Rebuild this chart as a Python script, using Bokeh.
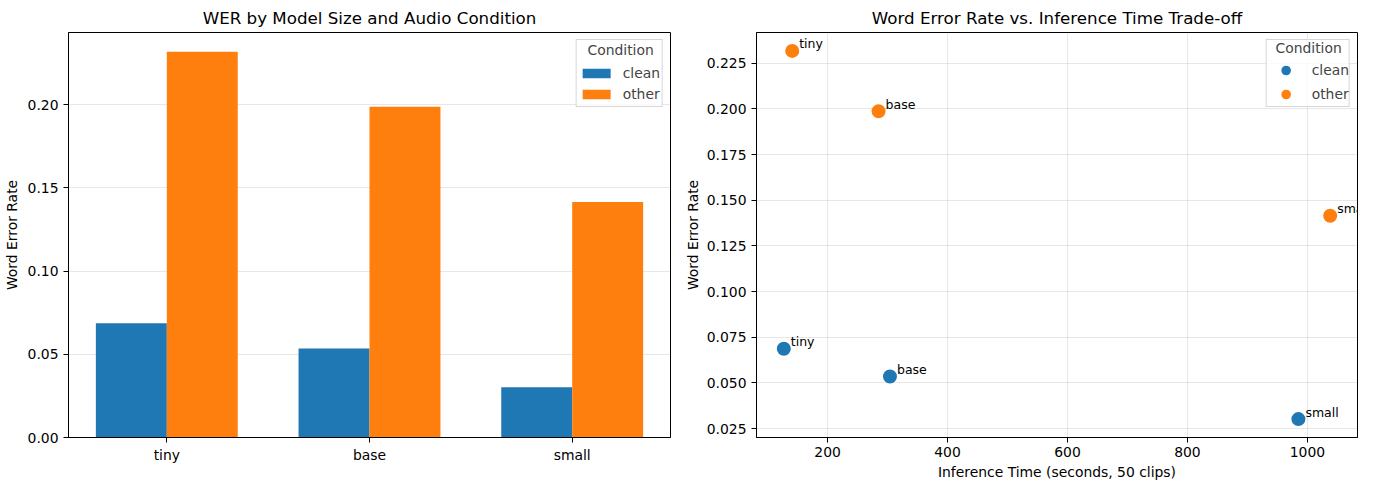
import numpy as np
from bokeh.plotting import figure
from bokeh.layouts import row
from bokeh.models import (ColumnDataSource, Range1d, FixedTicker, SingleIntervalTicker,
                          NumeralTickFormatter, Legend, LegendItem, Label)
from bokeh.embed import file_html
from bokeh.resources import INLINE

# data
models = ["tiny", "base", "small"]
wer_clean = [0.0687, 0.0535, 0.0302]
wer_other = [0.2318, 0.1988, 0.1415]
time_clean = [127, 304, 985]
time_other = [141, 285, 1038]
conditions = ["clean", "other"]

BLUE = "#1f77b4"
ORANGE = "#ff7f0e"
FONT = "DejaVu Sans"
bar_w = 0.35


def pad_range(lo, hi, frac=0.05):
    span = hi - lo
    return Range1d(lo - frac * span, hi + frac * span)


def style(p):
    p.title.text_font = FONT
    p.title.text_font_size = "16.7px"
    p.title.text_font_style = "normal"
    p.title.text_color = "black"
    p.title.align = "center"
    p.title.standoff = 10
    p.outline_line_color = "black"
    p.outline_line_width = 1
    for ax in p.axis:
        ax.axis_line_color = "black"
        ax.major_tick_line_color = "black"
        ax.major_tick_out = 5
        ax.major_tick_in = 0
        ax.minor_tick_line_color = None
        ax.major_label_text_font = FONT
        ax.major_label_text_font_size = "13.9px"
        ax.major_label_text_color = "black"
        ax.axis_label_text_font = FONT
        ax.axis_label_text_font_size = "13.9px"
        ax.axis_label_text_font_style = "normal"
        ax.axis_label_text_color = "black"
        ax.major_label_standoff = 5
    p.xaxis.major_label_standoff = 4
    p.grid.grid_line_color = "#b0b0b0"
    p.grid.grid_line_alpha = 0.3


def style_legend(leg):
    leg.location = "top_right"
    leg.margin = 7
    leg.title_text_font = FONT
    leg.title_text_font_size = "13.9px"
    leg.title_text_font_style = "normal"
    leg.label_text_font = FONT
    leg.label_text_font_size = "13.9px"
    leg.border_line_color = "#cccccc"
    leg.border_line_alpha = 0.8
    leg.background_fill_alpha = 0.8


# legend title is left-aligned in Bokeh, pad it to sit centred
leg_title = "\u00a0\u00a0Condition"

# ---- left: grouped bars ----
x = np.arange(len(models))
bar_src = ColumnDataSource(dict(x_clean=x - bar_w / 2, x_other=x + bar_w / 2,
                                clean=wer_clean, other=wer_other))

p1 = figure(frame_width=602, frame_height=405, title="WER by Model Size and Audio Condition",
            x_range=pad_range(-bar_w, len(models) - 1 + bar_w),
            y_range=Range1d(0, max(wer_other) * 1.05),
            output_backend="svg", toolbar_location=None,
            min_border_left=62, min_border_right=8, min_border_top=24, min_border_bottom=41)
r_clean = p1.vbar(x="x_clean", top="clean", width=bar_w, source=bar_src,
                  fill_color=BLUE, line_color=None)
r_other = p1.vbar(x="x_other", top="other", width=bar_w, source=bar_src,
                  fill_color=ORANGE, line_color=None)
p1.yaxis.axis_label = "Word Error Rate"
p1.xaxis.ticker = FixedTicker(ticks=list(range(len(models))))
p1.xaxis.major_label_overrides = {i: m for i, m in enumerate(models)}
p1.yaxis.ticker = SingleIntervalTicker(interval=0.05)
p1.yaxis.formatter = NumeralTickFormatter(format="0.00")
style(p1)
p1.xgrid.visible = False
p1.yaxis.axis_label_standoff = 5

leg1 = Legend(items=[LegendItem(label=conditions[0], renderers=[r_clean]),
                     LegendItem(label=conditions[1], renderers=[r_other])],
              title=leg_title)
style_legend(leg1)
leg1.padding = 2
leg1.glyph_width = 35
leg1.glyph_height = 12
leg1.label_height = 20
leg1.label_width = 30
leg1.label_standoff = 9
leg1.spacing = 1
leg1.title_standoff = 5
p1.add_layout(leg1)

# ---- right: scatter trade-off ----
all_t = time_clean + time_other
all_w = wer_clean + wer_other
p2 = figure(frame_width=601, frame_height=405,
            title="Word Error Rate vs. Inference Time Trade-off",
            x_range=pad_range(min(all_t), max(all_t)),
            y_range=pad_range(min(all_w), max(all_w)),
            output_backend="svg", toolbar_location=None,
            min_border_left=78, min_border_right=19, min_border_top=24, min_border_bottom=41)

src_c = ColumnDataSource(dict(t=time_clean, w=wer_clean))
src_o = ColumnDataSource(dict(t=time_other, w=wer_other))
s_clean = p2.scatter("t", "w", size=14, fill_color=BLUE, line_color=None, source=src_c)
s_other = p2.scatter("t", "w", size=14, fill_color=ORANGE, line_color=None, source=src_o)

# point annotations, offset 5pt right / 5pt up like the original
for ts, ws in ((time_clean, wer_clean), (time_other, wer_other)):
    for t, w, m in zip(ts, ws, models):
        p2.add_layout(Label(x=t, y=w, text=m, x_offset=7, y_offset=7,
                            text_font=FONT, text_font_size="12.5px", text_color="black",
                            text_baseline="alphabetic", text_align="left"))

p2.xaxis.axis_label = "Inference Time (seconds, 50 clips)"
p2.yaxis.axis_label = "Word Error Rate"
p2.xaxis.ticker = SingleIntervalTicker(interval=200)
p2.yaxis.ticker = SingleIntervalTicker(interval=0.025)
p2.yaxis.formatter = NumeralTickFormatter(format="0.000")
style(p2)
p2.yaxis.axis_label_standoff = 3
p2.xaxis.axis_label_standoff = 4

leg2 = Legend(items=[LegendItem(label=conditions[0], renderers=[s_clean]),
                     LegendItem(label=conditions[1], renderers=[s_other])],
              title=leg_title)
style_legend(leg2)
leg2.padding = 0
leg2.glyph_width = 38
leg2.glyph_height = 24
leg2.label_height = 20
leg2.label_width = 36
leg2.label_standoff = 7
leg2.spacing = 0
leg2.title_standoff = 2
p2.add_layout(leg2)

layout = row(p1, p2)
open("out.html", "w").write(file_html(layout, INLINE))
